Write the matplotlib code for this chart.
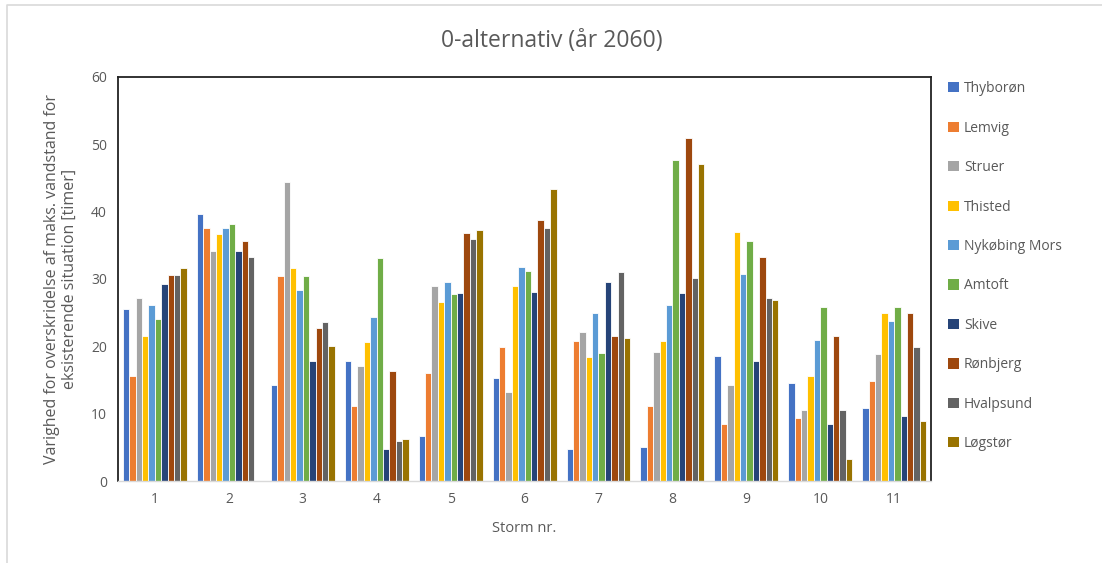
import numpy as np
import matplotlib.pyplot as plt
from matplotlib.patches import Patch
from matplotlib.lines import Line2D

plt.rcParams['font.family'] = ['Open Sans', 'DejaVu Sans']

storms = ['1', '2', '3', '4', '5', '6', '7', '8', '9', '10', '11']
stations = ['Thyborøn', 'Lemvig', 'Struer', 'Thisted', 'Nykøbing Mors',
            'Amtoft', 'Skive', 'Rønbjerg', 'Hvalpsund', 'Løgstør']

thyboron = [25.6, 39.7, 14.3, 17.8, 6.7, 15.3, 4.8, 5.1, 18.6, 14.5, 10.8]
lemvig = [15.6, 37.5, 30.4, 11.2, 16.0, 19.9, 20.8, 11.2, 8.4, 9.3, 14.9]
struer = [27.1, 34.2, 44.4, 17.1, 29.0, 13.2, 22.1, 19.2, 14.3, 10.6, 18.8]
thisted = [21.5, 36.6, 31.6, 20.6, 26.6, 29.0, 18.4, 20.8, 37.0, 15.6, 24.9]
nykobing = [26.2, 37.5, 28.4, 24.3, 29.5, 31.8, 24.9, 26.2, 30.8, 21.0, 23.8]
amtoft = [24.0, 38.1, 30.5, 33.1, 27.7, 31.2, 19.0, 47.7, 35.7, 25.8, 25.8]
skive = [29.3, 34.2, 17.8, 4.75, 27.9, 28.1, 29.5, 27.9, 17.8, 8.4, 9.7]
ronbjerg = [30.6, 35.6, 22.7, 16.4, 36.8, 38.8, 21.5, 50.9, 33.2, 21.5, 24.9]
hvalpsund = [30.6, 33.3, 23.6, 6.0, 35.9, 37.5, 31.0, 30.1, 27.1, 10.6, 19.9]
logstor = [31.6, 0.0, 20.1, 6.2, 37.2, 43.3, 21.2, 47.0, 26.9, 3.2, 8.9]

series = [thyboron, lemvig, struer, thisted, nykobing,
          amtoft, skive, ronbjerg, hvalpsund, logstor]
colors = ['#4472C4', '#ED7D31', '#A5A5A5', '#FFC000', '#5B9BD5',
          '#70AD47', '#264478', '#9E480E', '#636363', '#997300']

txt = '#595959'

fig = plt.figure(figsize=(11.02, 5.63), dpi=100)
# chart area frame (left and top edges, the rest runs off the image)
fig.add_artist(Line2D([0.0065, 0.0065, 1.0], [0.0, 0.991, 0.991], transform=fig.transFigure,
                      color='#d9d9d9', linewidth=1.2))
ax = fig.add_axes([0.107, 0.1456, 0.738, 0.718])

x = np.arange(len(storms))
slot = 0.0865
for i, (vals, c) in enumerate(zip(series, colors)):
    offs = (i - 4.5) * slot
    ax.bar(x + offs, vals, width=slot, color=c, edgecolor='white', linewidth=0.6)

ax.set_xlim(-0.5, 10.5)
ax.set_ylim(0, 60)
ax.set_yticks(range(0, 61, 10))
ax.set_xticks(x)
ax.set_xticklabels(storms)
ax.tick_params(length=0, labelsize=10, colors=txt, pad=8)

for s in ['left', 'top', 'right']:
    ax.spines[s].set_color('#222222')
    ax.spines[s].set_linewidth(1.3)
ax.spines['bottom'].set_color('#d9d9d9')
ax.spines['bottom'].set_linewidth(1.0)

ax.set_xlabel('Storm nr.', fontsize=10.5, color=txt, labelpad=10)
ax.set_ylabel('Varighed for overskridelse af maks. vandstand for\neksisterende situation [timer]',
              fontsize=11.5, color=txt, labelpad=9, linespacing=1.2)
fig.text(0.501, 0.928, '0-alternativ (år 2060)', ha='center', va='center',
         fontsize=16.5, color=txt)

handles = [Patch(facecolor=c, edgecolor='none') for c in colors]
fig.legend(handles, stations, loc='upper left', bbox_to_anchor=(0.849, 0.878),
           frameon=False, fontsize=10, labelcolor=txt, handlelength=0.75,
           handleheight=0.75, handletextpad=0.4, labelspacing=1.76)

fig.savefig('out.png', dpi=100)
